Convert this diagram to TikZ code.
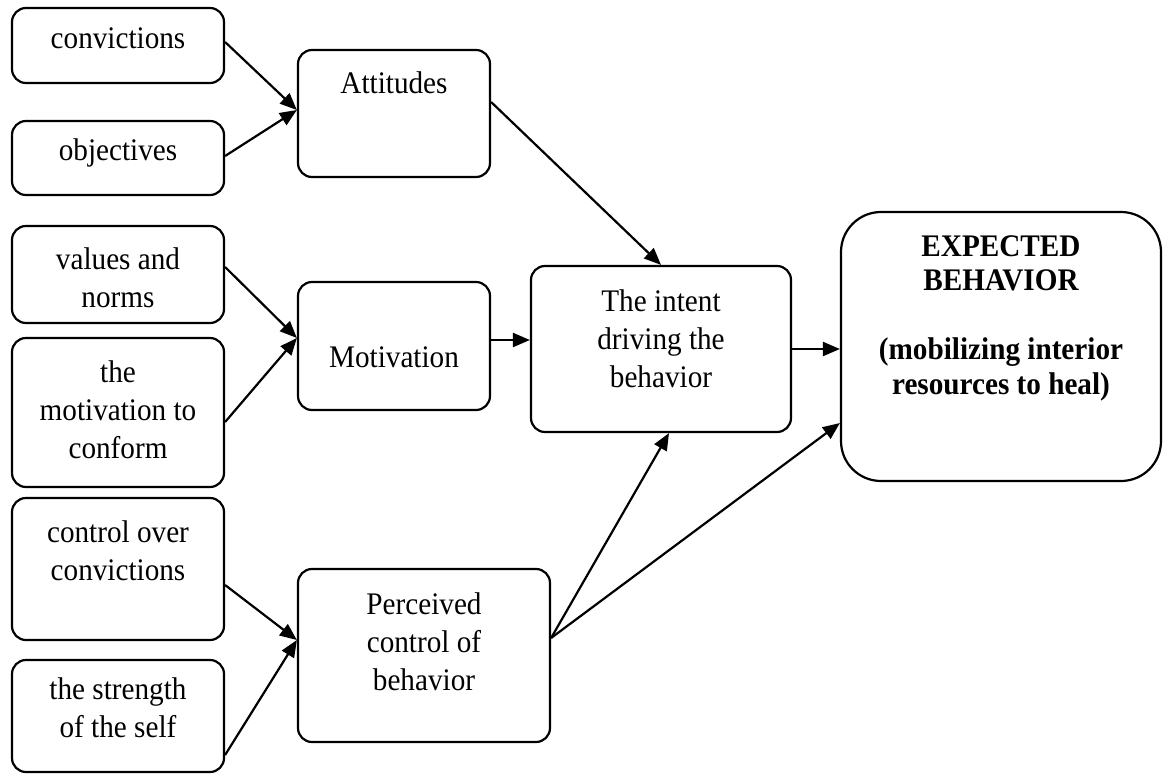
\documentclass[tikz,border=0pt]{standalone}
\usepackage{fontspec}
\setmainfont{Liberation Serif}[FakeStretch=0.93]
\usetikzlibrary{arrows.meta,calc}
\begin{document}
\begin{tikzpicture}[x=1pt,y=-1pt,
  box/.style={draw,line width=2.2pt,rounded corners=14pt,inner sep=0pt},
  lbl/.style={align=center,font=\fontsize{31.4}{38}\selectfont,inner sep=0pt},
  blbl/.style={align=center,font=\fontsize{31.4}{34.5}\selectfont\bfseries,inner sep=0pt},
  arr/.style={line width=2.2pt,-{Triangle[length=17pt,width=14pt]}}]
\useasboundingbox (0,0) rectangle (1163,774);
% boxes
\node[box,minimum width=212pt,minimum height=75pt] (conv) at (118,45.5) {};
\node[box,minimum width=212pt,minimum height=74pt] (obj) at (118,158) {};
\node[box,minimum width=192pt,minimum height=127pt] (att) at (394,113.5) {};
\node[box,minimum width=212pt,minimum height=97pt] (val) at (118,274.5) {};
\node[box,minimum width=212pt,minimum height=149pt] (conf) at (118,412.5) {};
\node[box,minimum width=192pt,minimum height=128pt] (mot) at (394,346) {};
\node[box,minimum width=212pt,minimum height=142pt] (ctrl) at (118,569) {};
\node[box,minimum width=212pt,minimum height=112pt] (str) at (118,716) {};
\node[box,minimum width=252pt,minimum height=173pt] (perc) at (424,655.5) {};
\node[box,minimum width=260pt,minimum height=166pt] (intent) at (661,349) {};
\node[box,rounded corners=40pt,minimum width=320pt,minimum height=269pt] (exp) at (1001,346.5) {};
% texts
\node[lbl] (tconv) at (118,38) {convictions};
\node[lbl] (tobj) at (118,153) {objectives};
\node[lbl] (tatt) at (394,83) {Attitudes};
\node[lbl] (tval) at (118,278) {values and\\norms};
\node[lbl] (tconf) at (118,410) {the\\motivation to\\conform};
\node[lbl] (tmot) at (394,357) {Motivation};
\node[lbl] (tctrl) at (118,551) {control over\\convictions};
\node[lbl] (tstr) at (118,708) {the strength\\of the self};
\node[lbl] (tperc) at (424,642) {Perceived\\control of\\behavior};
\node[lbl] (tint) at (661,339) {The intent\\driving the\\behavior};
\node[blbl] (texp) at (1001,318) {EXPECTED\\BEHAVIOR\\[34.5pt](mobilizing interior\\resources to heal)};
% arrows
\draw[arr] ($(conv.east)+(0,-3.5)$) -- ($(att.west)+(0,-3.5)$);
\draw[arr] ($(obj.east)+(0,-2)$) -- ($(att.west)+(0,-3.5)$);
\draw[arr] ($(val.east)+(0,-7.5)$) -- ($(mot.west)+(0,-8)$);
\draw[arr] ($(conf.east)+(0,9.5)$) -- ($(mot.west)+(0,-8)$);
\draw[arr] ($(ctrl.east)+(0,16)$) -- ($(perc.west)+(0,-15.5)$);
\draw[arr] ($(str.east)+(0,39)$) -- ($(perc.west)+(0,-15.5)$);
\draw[arr] ($(att.east)+(0,-11.5)$) -- (intent.north);
\draw[arr] ($(mot.east)+(0,-6)$) -- ($(intent.west)+(0,-9)$);
\draw[arr] (intent.east) -- (intent.east -| exp.west);
\draw[arr] ($(perc.east)+(0,-17.5)$) -- ($(intent.south)+(8,0)$);
\draw[arr] ($(perc.east)+(0,-17.5)$) -- ($(exp.west)+(0,76.5)$);
\end{tikzpicture}
\end{document}
